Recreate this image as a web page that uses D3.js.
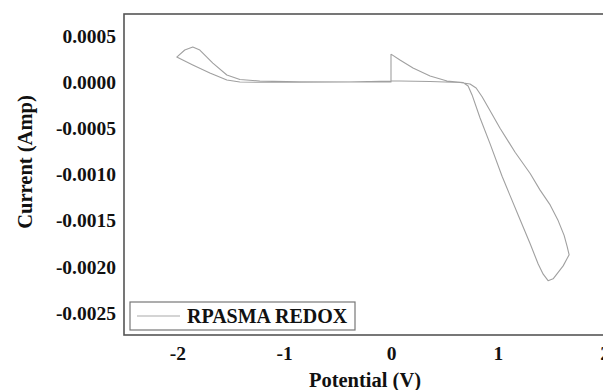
<!DOCTYPE html>
<html>
<head>
<meta charset="utf-8">
<script src="https://cdn.jsdelivr.net/npm/d3@7"></script>
<style>
  body { margin: 0; background: #fff; }
  svg { display: block; overflow: hidden; }
  text { font-family: "Liberation Serif", "Times New Roman", serif; font-weight: bold; fill: #111; }
</style>
</head>
<body>
<div id="chart"></div>
<script>
// cyclic voltammogram, one trace
var potential = [0.00, 0.084, 0.206, 0.366, 0.525, 0.675,
  0.722, 0.759, 0.834, 0.928, 1.040, 1.115, 1.209, 1.303, 1.378, 1.425, 1.471,
  1.518, 1.565, 1.612, 1.649, 1.668,
  1.649, 1.621, 1.565, 1.490, 1.396, 1.303, 1.162, 1.021, 0.928, 0.853, 0.797, 0.740,
  0.647, 0.366, 0.084, 0.00, -0.384, -0.853, -1.228, -1.415,
  -1.537, -1.696, -1.856, -2.006,
  -1.931, -1.856, -1.790, -1.668, -1.537, -1.415, -1.228, -0.853, 0.00, 0.00];

var current = [0.000302, 0.000238, 0.000151, 0.000065, 0.000011, -0.000005,
  -0.000043, -0.00014, -0.000389, -0.00067, -0.00102, -0.00123, -0.00149, -0.00175, -0.00197, -0.00208, -0.00215,
  -0.00213, -0.00206, -0.00199, -0.00191, -0.00187,
  -0.00178, -0.00166, -0.00150, -0.00133, -0.00117, -0.00099, -0.00076, -0.00050, -0.00031, -0.00016, -0.000065, -0.000022,
  -0.000005, 0.000005, 0.000011, 0.000011, 0.0, -0.000003, -0.000003, 0.0,
  0.000022, 0.000097, 0.000184, 0.00027,
  0.000346, 0.000378, 0.000346, 0.000205, 0.000076, 0.000027, 0.000011, 0.000003, 0.0, 0.000302];

var xTicks = [-2, -1, 0, 1, 2];
var xTickLabels = ["-2", "-1", "0", "1", "2"];
var yTicks = [0.0005, 0.0, -0.0005, -0.0010, -0.0015, -0.0020, -0.0025];
var yTickLabels = ["0.0005", "0.0000", "-0.0005", "-0.0010", "-0.0015", "-0.0020", "-0.0025"];
var seriesName = "RPASMA REDOX";

var svgWidth = 603;
var svgHeight = 390;

var plot = { left: 124, top: 14, right: 658, bottom: 335 };

var svg = d3.select("#chart")
  .append("svg")
  .attr("width", svgWidth)
  .attr("height", svgHeight);

var xScale = d3.scaleLinear()
  .domain([-2.5, 2.5])
  .range([plot.left, plot.right]);

var yScale = d3.scaleLinear()
  .domain([-0.002738, 0.000736])
  .range([plot.bottom, plot.top]);

var data = potential.map(function(p, i) { return { x: p, y: current[i] }; });

// the trace
var line = d3.line()
  .x(d => xScale(d.x))
  .y(d => yScale(d.y));

svg.append("path")
  .datum(data)
  .attr("d", line)
  .attr("fill", "none")
  .attr("stroke", "#a0a0a0")
  .attr("stroke-width", 1.1)
  .attr("stroke-linejoin", "round");

// frame (right side runs past the window)
svg.append("rect")
  .attr("x", plot.left)
  .attr("y", plot.top)
  .attr("width", plot.right - plot.left)
  .attr("height", plot.bottom - plot.top)
  .attr("fill", "none")
  .attr("stroke", "#555")
  .attr("stroke-width", 1.6);

// axes, labels only
var bottomAxis = d3.axisBottom(xScale)
  .tickValues(xTicks)
  .tickFormat((d, i) => xTickLabels[i])
  .tickSize(0)
  .tickPadding(11);

var leftAxis = d3.axisLeft(yScale)
  .tickValues(yTicks)
  .tickFormat((d, i) => yTickLabels[i])
  .tickSize(0)
  .tickPadding(8);

var xAxis = svg.append("g")
  .attr("transform", `translate(0, ${plot.bottom})`)
  .call(bottomAxis);

var yAxis = svg.append("g")
  .attr("transform", `translate(${plot.left}, 0)`)
  .call(leftAxis);

[xAxis, yAxis].forEach(function(g) {
  g.select(".domain").remove();
  g.selectAll("text")
    .attr("font-family", null)
    .style("font-size", "19.5px")
    .attr("fill", "#111");
});

// axis titles
svg.append("text")
  .attr("x", 365)
  .attr("y", 387)
  .attr("text-anchor", "middle")
  .style("font-size", "20.5px")
  .text("Potential  (V)");

svg.append("text")
  .attr("transform", "rotate(-90)")
  .attr("x", -162)
  .attr("y", 32)
  .attr("text-anchor", "middle")
  .style("font-size", "20.5px")
  .text("Current  (Amp)");

// legend
var legend = svg.append("g");

legend.append("rect")
  .attr("x", 130)
  .attr("y", 302)
  .attr("width", 225)
  .attr("height", 28)
  .attr("fill", "#fff")
  .attr("stroke", "#777")
  .attr("stroke-width", 1.2);

legend.append("line")
  .attr("x1", 137)
  .attr("x2", 180)
  .attr("y1", 316)
  .attr("y2", 316)
  .attr("stroke", "#aaa")
  .attr("stroke-width", 1.1);

legend.append("text")
  .attr("x", 187)
  .attr("y", 323)
  .style("font-size", "20px")
  .text(seriesName);
</script>
</body>
</html>
